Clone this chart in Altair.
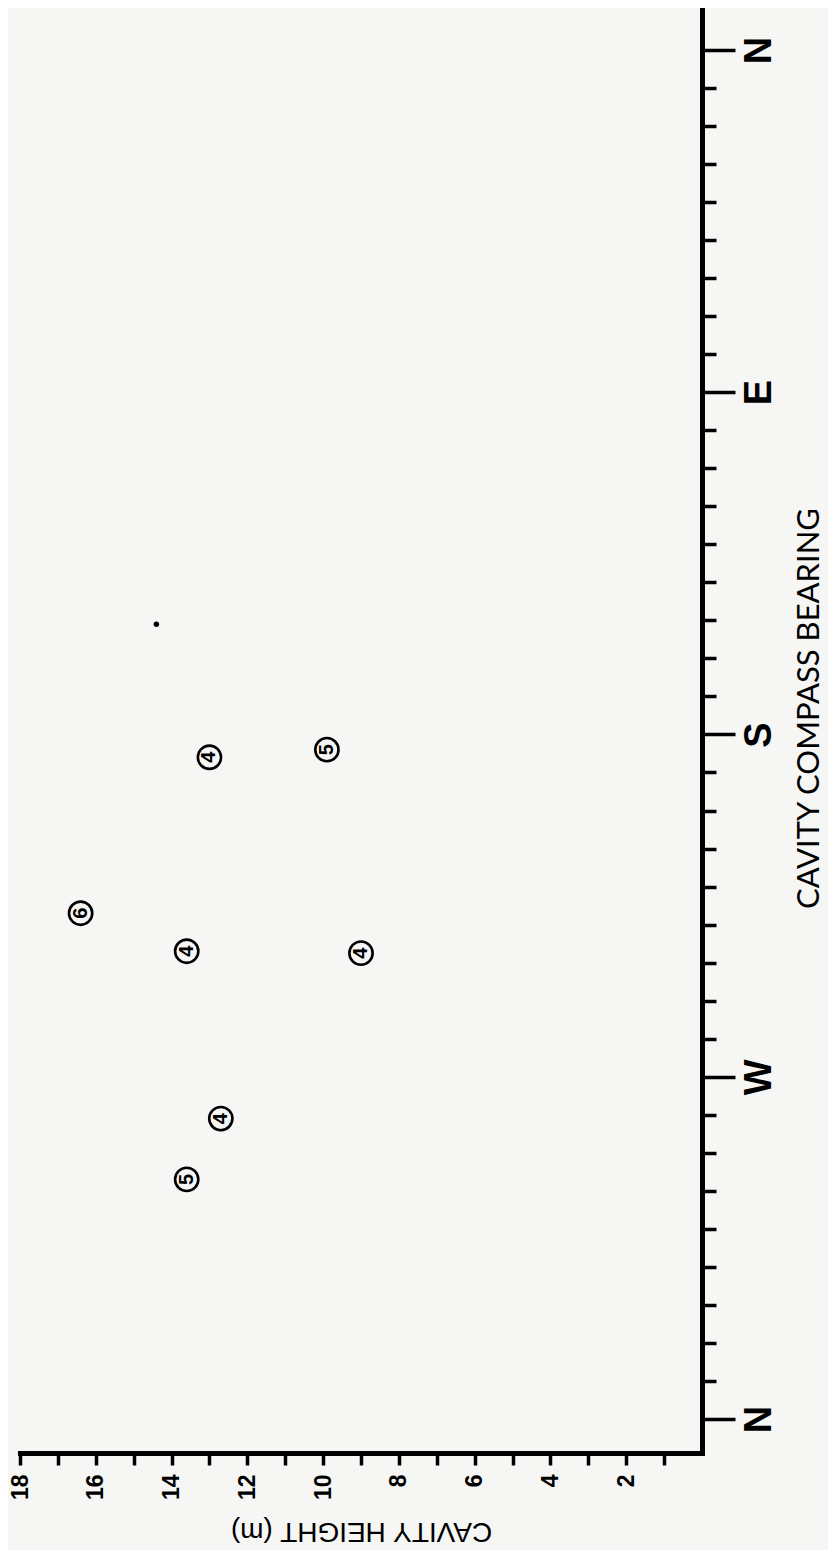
import altair as alt
import pandas as pd

# ---- data ----
# circled numbers (number of cavities) at cavity height (m) and compass bearing (deg)
cav_heights = [16.4, 13.6, 9.0, 12.7, 13.6, 13.0, 9.9]
cav_bearings = [227, 237, 237.5, 281, 297, 186, 184]
cav_labels = ["6", "4", "4", "4", "5", "4", "5"]

# single small solid dot
dot_heights = [14.4]
dot_bearings = [151]

height_ticks = list(range(1, 19))
bearing_ticks = list(range(0, 361, 10))
compass_names = {0: "N", 90: "E", 180: "S", 270: "W", 360: "N"}

rows = []
for h, b, l in zip(cav_heights, cav_bearings, cav_labels):
    rows.append({"height": h, "bearing": b, "label": l, "kind": "circle"})
for h, b in zip(dot_heights, dot_bearings):
    rows.append({"height": h, "bearing": b, "label": "", "kind": "dot"})
df = pd.DataFrame(rows)

label_expr = " : ".join(
    [f"datum.value == {k} ? '{v}'" for k, v in compass_names.items()]
) + " : ''"

W, H = 682, 1443

x_axis = alt.Axis(
    orient="bottom", values=height_ticks, grid=False,
    labelExpr="datum.value % 2 === 0 ? datum.label : ''",
    labelAngle=270, labelAlign="right", labelBaseline="middle",
    labelPadding=9, labelFont="Liberation Sans", labelFontWeight="bold",
    labelFontSize=23, labelColor="black", labelOverlap=False, labelFlush=False,
    tickSize=12, tickWidth=3.5, tickColor="black",
    domainColor="black", domainWidth=5, domainCap="square",
    title="CAVITY HEIGHT (m)", titleAngle=180, titleX=W / 2, titleY=77,
    titleAlign="center", titleBaseline="middle", titleFont="Liberation Sans",
    titleFontSize=28, titleFontWeight="normal", titleColor="black",
)

y_axis = alt.Axis(
    orient="right", values=bearing_ticks, grid=False,
    labelExpr=label_expr, labelAngle=270, labelAlign="center",
    labelBaseline="top", labelPadding=5, labelFont="Liberation Sans",
    labelFontWeight="bold", labelFontSize=38, labelColor="black",
    labelOverlap=False, labelFlush=False, labelBound=False,
    tickSize={"condition": {"test": "datum.value % 90 === 0", "value": 33}, "value": 14},
    tickWidth=3.5, tickColor="black",
    domainColor="black", domainWidth=5, domainCap="square",
    title="CAVITY COMPASS BEARING", titleAngle=270, titleX=107, titleY=698,
    titleAlign="center", titleBaseline="middle", titleFont="Lato",
    titleFontSize=31, titleFontWeight="normal", titleColor="black",
)

base = alt.Chart(df).encode(
    x=alt.X("height:Q", axis=x_axis,
            scale=alt.Scale(domain=[0, 18], reverse=True, nice=False, zero=False)),
    y=alt.Y("bearing:Q", axis=y_axis,
            scale=alt.Scale(domain=[368.94, -10.5], nice=False, zero=False)),
)

circles = base.transform_filter(alt.datum.kind == "circle").mark_point(
    shape="circle", filled=False, size=540, strokeWidth=2.6, color="black", opacity=1
)
numbers = base.transform_filter(alt.datum.kind == "circle").mark_text(
    angle=270, fontSize=20, fontWeight="bold", font="Liberation Sans",
    color="black", align="center", baseline="middle"
).encode(text="label:N")
dots = base.transform_filter(alt.datum.kind == "dot").mark_circle(
    size=30, color="black", opacity=1
)

chart = alt.layer(circles, numbers, dots).properties(
    width=W, height=H,
    autosize=alt.AutoSizeParams(type="none"),
    padding={"left": 12, "top": 2, "right": 126, "bottom": 97},
    background="#f6f6f4",
).configure_view(stroke=None)

chart.save("out.html", embed_options={"renderer": "svg", "actions": False})
